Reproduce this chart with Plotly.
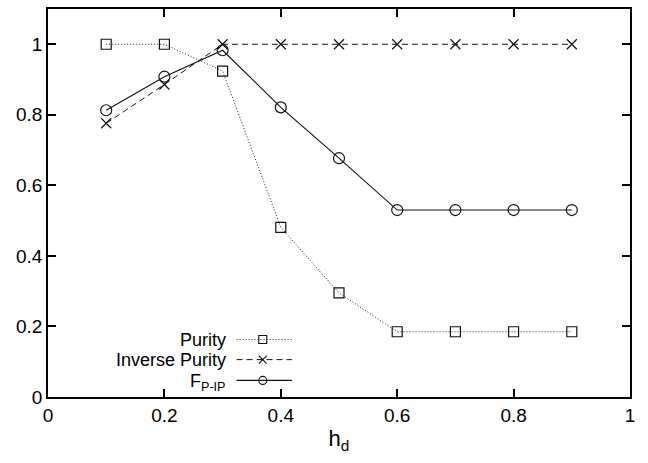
import plotly.graph_objects as go

hd = [0.1, 0.2, 0.3, 0.4, 0.5, 0.6, 0.7, 0.8, 0.9]
purity = [1.0, 1.0, 0.924, 0.481, 0.295, 0.185, 0.185, 0.185, 0.185]
inverse_purity = [0.776, 0.886, 1.0, 1.0, 1.0, 1.0, 1.0, 1.0, 1.0]
f_pip = [0.813, 0.908, 0.983, 0.821, 0.677, 0.530, 0.530, 0.530, 0.530]

series_names = ["Purity", "Inverse Purity", "F<sub>P-IP</sub>"]
x_ticks = [0, 0.2, 0.4, 0.6, 0.8, 1]
x_tick_labels = ["0", "0.2", "0.4", "0.6", "0.8", "1"]
y_ticks = [0, 0.2, 0.4, 0.6, 0.8, 1]
y_tick_labels = ["0", "0.2", "0.4", "0.6", "0.8", "1"]

FONT = "Liberation Sans, Arial, Helvetica, sans-serif"
FS = 19
line_styles = [
    dict(color="#222", width=1, dash="1px,2px"),
    dict(color="#111", width=1, dash="6px,4px"),
    dict(color="#111", width=1.1),
]
symbols = ["square-open", "x-thin-open", "circle-open"]
sizes = [10, 10, 11]

fig = go.Figure()
for name, ys, ls, sym, sz in zip(series_names, [purity, inverse_purity, f_pip],
                                 line_styles, symbols, sizes):
    fig.add_trace(go.Scatter(x=hd, y=ys, mode="lines+markers", name=name, line=ls,
                             marker=dict(symbol=sym, size=sz, color="#111",
                                         line=dict(width=1.2)),
                             showlegend=False))

# gnuplot-style key: text right-aligned, sample on the right
key_rows_y = [0.163, 0.106, 0.047]
key_text_y = [0.163, 0.106, 0.040]
key_text_x = 0.307
key_line_x = [0.324, 0.419]
key_mark_x = 0.369
for name, ky, ty, ls, sym in zip(series_names, key_rows_y, key_text_y, line_styles, symbols):
    fig.add_trace(go.Scatter(x=key_line_x, y=[ky, ky], mode="lines", line=ls,
                             showlegend=False, hoverinfo="skip"))
    fig.add_trace(go.Scatter(x=[key_mark_x], y=[ky], mode="markers",
                             marker=dict(symbol=sym, size=8, color="#111",
                                         line=dict(width=1.1)),
                             showlegend=False, hoverinfo="skip"))
    fig.add_annotation(x=key_text_x, y=ty, xref="x", yref="y", text=name,
                       showarrow=False, xanchor="right", yanchor="middle",
                       borderpad=0, font=dict(family=FONT, size=18, color="#000"))

axis_common = dict(showgrid=False, zeroline=False, showline=True, linecolor="#000",
                   linewidth=1.5, mirror="ticks", ticks="inside", ticklen=8,
                   tickwidth=1.5, tickcolor="#000",
                   tickfont=dict(family=FONT, size=FS, color="#000"))

fig.update_xaxes(range=[0, 1], tickvals=x_ticks, ticktext=x_tick_labels,
                 title=dict(text="h<sub>d</sub>", font=dict(family=FONT, size=22, color="#000"),
                            standoff=6),
                 **axis_common)
fig.update_yaxes(range=[0, 1.1], tickvals=y_ticks, ticktext=y_tick_labels, **axis_common)

fig.update_layout(width=648, height=463, paper_bgcolor="white", plot_bgcolor="white",
                  margin=dict(l=48, r=18, t=7, b=66),
                  font=dict(family=FONT, color="#000"))

fig.write_html("out.html")
